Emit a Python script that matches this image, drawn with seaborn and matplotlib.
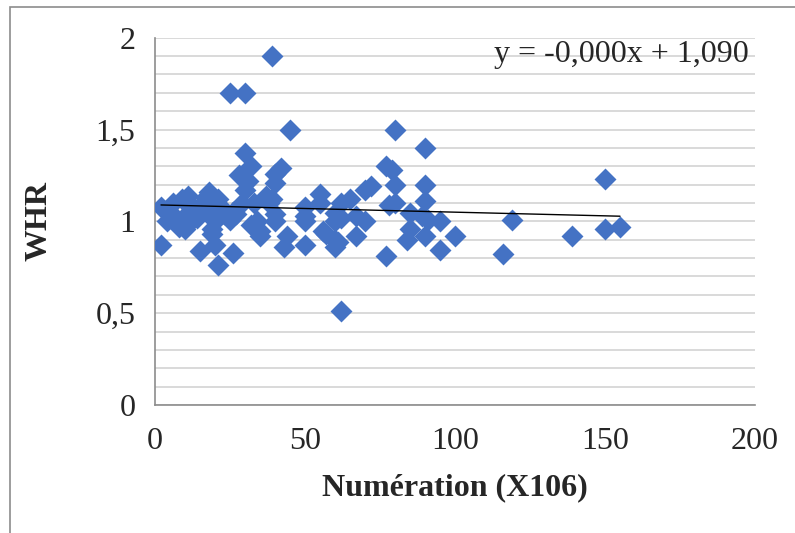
import numpy as np
import pandas as pd
import matplotlib
matplotlib.use("Agg")
import matplotlib.pyplot as plt
from matplotlib.patches import Rectangle
import seaborn as sns

# Data
numeration = [2, 2, 4, 5, 6, 7, 8, 9, 10, 10, 11, 12, 13, 14, 15, 16, 17, 18, 18, 19,
              19, 20, 20, 21, 21, 22, 23, 25, 25, 26, 26, 27, 28, 29, 30, 30, 30, 31, 32, 32,
              33, 34, 35, 35, 37, 38, 39, 39, 40, 40, 40, 40, 42, 43, 44, 45, 50, 50, 50, 50,
              55, 55, 56, 57, 60, 60, 60, 60, 61, 62, 62, 62, 65, 67, 67, 70, 70, 72, 77, 77,
              79, 80, 80, 80, 78, 85, 85, 84, 89, 90, 90, 90, 91, 90, 95, 95, 100, 116, 119, 139,
              150, 150, 155]
whr = [1.08, 0.87, 1.00, 1.05, 1.10, 1.00, 0.97, 1.12, 1.03, 0.96, 1.14, 1.00, 1.07, 1.02, 0.84, 1.10, 1.13, 1.16, 1.05, 0.96,
       0.93, 0.87, 1.00, 1.12, 0.76, 1.08, 1.04, 1.01, 1.70, 0.83, 1.05, 1.04, 1.25, 1.10, 1.70, 1.17, 1.37, 1.22, 1.30, 0.98,
       1.10, 1.00, 0.92, 0.95, 1.14, 1.10, 1.90, 1.12, 1.21, 1.26, 1.04, 1.00, 1.29, 0.86, 0.92, 1.50, 1.08, 1.03, 0.87, 1.00,
       1.15, 1.10, 0.95, 0.93, 1.045, 1.00, 0.90, 0.86, 0.89, 1.02, 0.51, 1.10, 1.12, 1.03, 0.92, 1.00, 1.17, 1.19, 1.30, 0.81,
       1.28, 1.50, 1.20, 1.10, 1.09, 1.045, 0.96, 0.90, 1.03, 1.40, 1.20, 1.11, 1.01, 0.92, 1.00, 0.845, 0.92, 0.82, 1.01, 0.92,
       1.23, 0.96, 0.97]
trend_slope = -0.0004
trend_intercept = 1.090
equation = "y = -0,000x + 1,090"
x_ticks = [0, 50, 100, 150, 200]
y_ticks = [0, 0.5, 1, 1.5, 2]
y_ticklabels = ["0", "0,5", "1", "1,5", "2"]
x_label = "Numération (X106)"
y_label = "WHR"

df = pd.DataFrame({"x": numeration, "y": whr})

sns.set_style("white")
plt.rcParams["font.family"] = ["Liberation Serif", "DejaVu Serif"]

fig = plt.figure(figsize=(7.95, 5.33), dpi=100)
ax = fig.add_axes([155 / 795, 1 - 405 / 533, 600 / 795, (405 - 37.7) / 533])

grid_color = "#D9D9D9"
axis_color = "#8C8C8C"

# horizontal gridlines every 0.1
ax.set_yticks(np.arange(0, 2.01, 0.1), minor=True)
ax.yaxis.grid(True, which="both", color=grid_color, linewidth=1.4, zorder=0)
ax.xaxis.grid(False)
ax.set_axisbelow(True)

sns.scatterplot(data=df, x="x", y="y", marker="D", s=125, color="#4472C4",
                linewidth=0, ax=ax, zorder=3)

tx = np.array([min(numeration), max(numeration)])
sns.lineplot(x=tx, y=trend_intercept + trend_slope * tx, color="black",
             linewidth=1.0, ax=ax, zorder=4)

ax.set_xlim(0, 200)
ax.set_ylim(0, 2)
ax.set_xticks(x_ticks)
ax.set_xticklabels([str(t) for t in x_ticks])
ax.set_yticks(y_ticks)
ax.set_yticklabels(y_ticklabels)
ax.tick_params(axis="both", which="major", direction="out", length=8, width=1.2,
               color=axis_color, labelsize=23, pad=6)
ax.tick_params(axis="y", which="minor", length=0)
ax.tick_params(axis="x", pad=8)

for side in ["top", "right"]:
    ax.spines[side].set_visible(False)
for side in ["left", "bottom"]:
    ax.spines[side].set_color(axis_color)
    ax.spines[side].set_linewidth(1.2)

ax.set_xlabel(x_label, fontsize=23, fontweight="bold", labelpad=12)
ax.set_ylabel(y_label, fontsize=23, fontweight="bold", labelpad=30)

ax.text(0.99, 0.955, equation, transform=ax.transAxes, ha="right", va="center",
        fontsize=23, zorder=5)

# chart frame (cut at right and bottom as in the reference)
fig.patches.append(Rectangle((10 / 795, -0.2), 1.5, 1.2 - 7 / 533,
                             transform=fig.transFigure, fill=False,
                             edgecolor="#8C8C8C", linewidth=1.2))

fig.savefig("out.png", dpi=100)
